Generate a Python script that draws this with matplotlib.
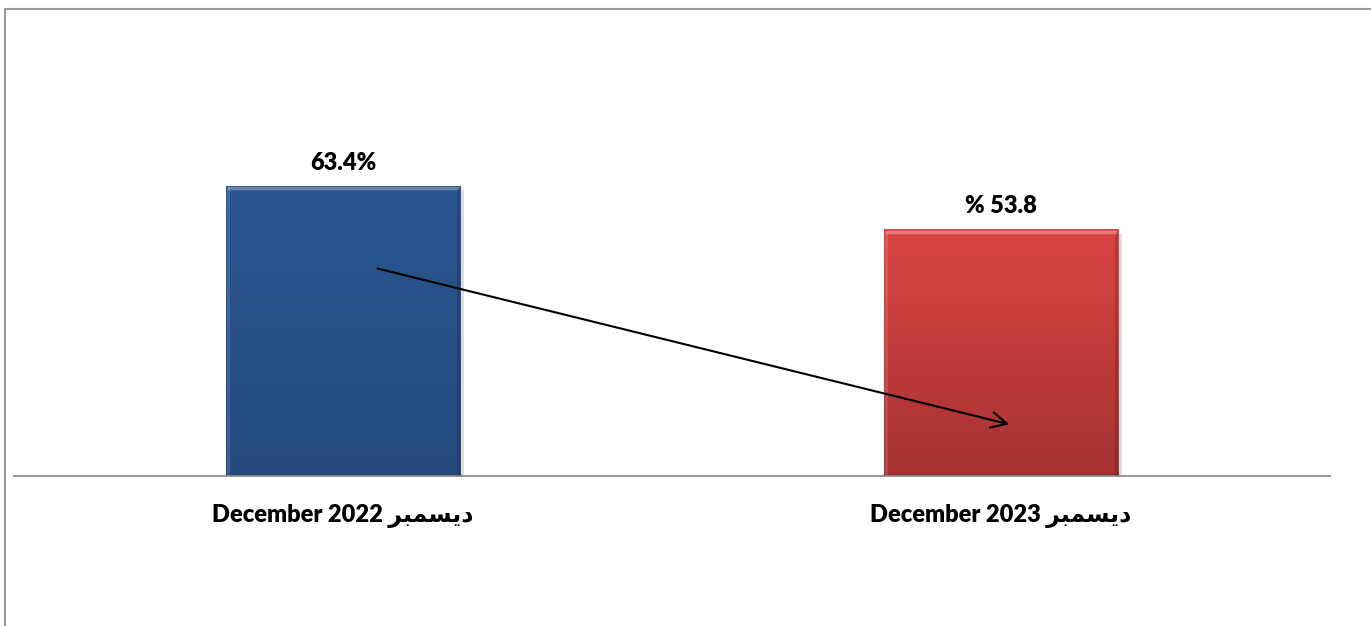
import numpy as np
import matplotlib.pyplot as plt
from matplotlib.lines import Line2D
from matplotlib.colors import LinearSegmentedColormap

# Arabic word "December", pre-shaped (presentation forms, visual order) since matplotlib does no shaping
ar_month = "\uFEAE\uFE92\uFEE4\uFEB4\uFEF3\uFEA9"

categories = ["December 2022 " + ar_month, "December 2023 " + ar_month]
values = [63.4, 53.8]
value_labels = ["63.4%", "% 53.8"]
bar_colors = [("#2a5590", "#254b7e"), ("#da4543", "#a53231")]

W, H = 1371, 626
fig = plt.figure(figsize=(W / 100, H / 100), dpi=100)
fig.patch.set_facecolor("white")

# outer frame (left and top only)
fig.add_artist(Line2D([5 / W, 5 / W], [0, 1 - 9 / H], color="#9a9a9a", lw=1.5))
fig.add_artist(Line2D([5 / W, 1], [1 - 9 / H, 1 - 9 / H], color="#9a9a9a", lw=1.5))

ax_left, ax_right, ax_base, ax_top = 14, 1330, 476, 40
ax = fig.add_axes([ax_left / W, (H - ax_base) / H, (ax_right - ax_left) / W, (ax_base - ax_top) / H])
px_per_unit = 290 / 63.4
for s in ["top", "right", "left"]:
    ax.spines[s].set_visible(False)
ax.spines["bottom"].set_color("#9a9a9a")
ax.spines["bottom"].set_linewidth(1.5)
ax.set_yticks([])
ax.set_xticks([])

width = 0.357
x = np.arange(len(values))
bars = ax.bar(x, values, width=width, color="none", edgecolor="none", zorder=2)
for b, (c1, c2) in zip(bars, bar_colors):
    x0, y0 = b.get_x(), b.get_y()
    w, h = b.get_width(), b.get_height()
    # soft shadow on the right
    ax.bar(x0 + w / 2 + 0.005, h - 0.3, width=w, bottom=-0.5, color="#aaaaaa", alpha=0.4, zorder=1)
    grad = np.linspace(0, 1, 256).reshape(-1, 1)
    cmap = LinearSegmentedColormap.from_list("g", [c1, c2])
    ax.imshow(grad, cmap=cmap, extent=[x0, x0 + w, y0, y0 + h], aspect="auto", zorder=2)
    # bevel edges
    ax.plot([x0 + 0.006, x0 + w - 0.006], [h - 0.5, h - 0.5], color="white", alpha=0.3, lw=2.5, zorder=3)
    ax.plot([x0 + 0.003, x0 + 0.003], [0.3, h - 0.6], color="white", alpha=0.12, lw=2, zorder=3)
    ax.plot([x0 + w - 0.003, x0 + w - 0.003], [0.3, h - 0.6], color="black", alpha=0.15, lw=2, zorder=3)
    ax.plot([x0, x0 + w], [0.3, 0.3], color="black", alpha=0.15, lw=2, zorder=3)

fam = ["Lato", "DejaVu Sans"]
for xi, v, lab in zip(x, values, value_labels):
    ax.annotate(lab, (xi, v), xytext=(0, 9), textcoords="offset points",
                ha="center", va="bottom", fontsize=17, fontweight="heavy", family=fam)
for xi, lab in zip(x, categories):
    ax.annotate(lab, (xi, 0), xytext=(0, -29), textcoords="offset points",
                ha="center", va="center", fontsize=17, fontweight="heavy", family=fam,
                annotation_clip=False)

ax.annotate("", xy=(1.0167, 11.15), xytext=(0.0486, 45.5),
            arrowprops=dict(arrowstyle="->", color="black", lw=1.5, mutation_scale=28), zorder=5)

ax.set_xlim(-0.5, 1.5)
ax.set_ylim(0, (ax_base - ax_top) / px_per_unit)
fig.savefig("out.png", dpi=100, facecolor="white")
